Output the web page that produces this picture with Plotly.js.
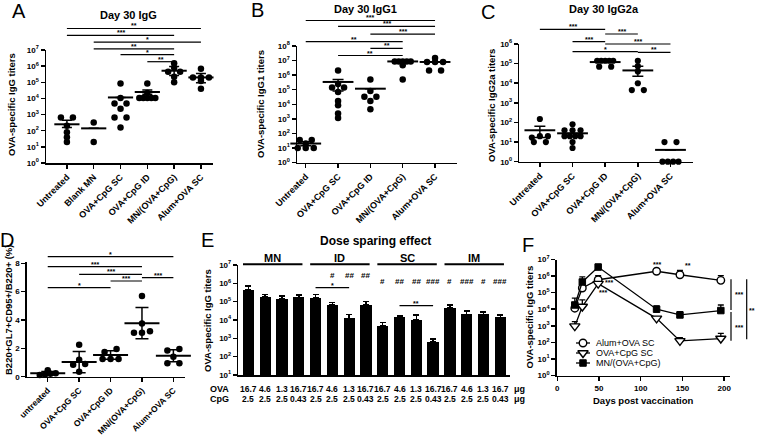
<!DOCTYPE html>
<html><head><meta charset="utf-8">
<script src="https://cdn.plot.ly/plotly-3.0.1.min.js"></script>
<style>body{margin:0;background:#fff}</style>
</head><body>
<div id="chart" style="width:757px;height:436px"></div>
<script>
// ================= DATA =================
// Panel A – Day 30 IgG
const catA = ['Untreated','Blank MN','OVA+CpG SC','OVA+CpG ID','MN/(OVA+CpG)','Alum+OVA SC'];
const dotsA = [
  [650, 650, 200, 80, 40, 20],
  [320, 20],
  [85000, 10500, 4900, 4900, 2300, 650, 650, 160],
  [85000, 22000, 10500, 10500, 10500, 10500, 10500],
  [1500000, 800000, 450000, 450000, 220000, 100000],
  [700000, 200000, 200000, 200000, 120000, 40000]
];
const meanA = [250, 140, 11500, 25000, 520000, 200000];
const hiA   = [450, 140, 11500, 33000, 950000, 355000];
const loA   = [160, 140, 11500, 18000, 260000, 95000];
const sigPairsA = [[0,5],[0,4],[1,5],[1,4],[2,4],[3,4]];
const sigStarsA = ['**','***','*','**','*','**'];

// Panel B – Day 30 IgG1
const catB = ['Untreated','OVA+CpG SC','OVA+CpG ID','MN/(OVA+CpG)','Alum+OVA SC'];
const dotsB = [
  [35, 35, 20, 10, 10, 10],
  [2100000, 250000, 140000, 140000, 70000, 17000, 8500, 2300, 1150],
  [510000, 80000, 33000, 33000, 17000, 4500],
  [8700000, 8700000, 8700000, 8700000, 8700000, 4700000, 510000],
  [15000000, 8000000, 8000000, 8000000, 2100000, 2100000]
];
const meanB = [20, 340000, 117000, 8700000, 8000000];
const hiB   = [27, 510000, 117000, 8700000, 8000000];
const loB   = [14, 80000, 117000, 8700000, 8000000];
const sigPairsB = [[0,4],[1,4],[2,4],[0,3],[2,3],[1,3]];
const sigStarsB = ['***','***','***','**','**','**'];

// Panel C – Day 30 IgG2a
const catC = ['Untreated','OVA+CpG SC','OVA+CpG ID','MN/(OVA+CpG)','Alum+OVA SC'];
const dotsC = [
  [150, 20, 20, 17, 10, 10],
  [80, 40, 40, 40, 20, 20, 20, 20, 10, 5],
  [140000, 140000, 140000, 140000, 140000, 70000, 70000],
  [140000, 74000, 40000, 10000, 4500, 4500],
  [10, 10, 1, 1, 1, 1]
];
const meanC = [40, 28, 120000, 45000, 4];
const hiC   = [65, 28, 120000, 74000, 4];
const loC   = [17, 28, 120000, 23000, 4];
const sigPairsC = [[0,2],[2,3],[1,2],[2,4],[1,3],[3,4]];
const sigStarsC = ['***','***','***','***','*','**'];

// Panel D – germinal centre B cells (%)
const catD = ['untreated','OVA+CpG SC','OVA+CpG ID','MN/(OVA+CpG)','Alum+OVA SC'];
const dotsD = [
  [0.45, 0.25, 0.2, 0.15, 0.12],
  [2.25, 1.2, 0.9, 0.85, 0.35],
  [1.95, 1.75, 1.25, 1.25, 1.25],
  [5.7, 3.75, 3.2, 3.1, 3.1],
  [1.95, 1.85, 1.4, 0.95, 0.95]
];
const meanD = [0.24, 1.03, 1.53, 3.78, 1.48];
const sdD   = [0.12, 0.75, 0.3, 1.1, 0.43];
const sigPairsD = [[0,4],[0,3],[1,3],[2,3],[3,4],[0,2]];
const sigStarsD = ['*','***','***','***','***','*'];

// Panel E – Dose sparing effect
const groupsE = ['MN','ID','SC','IM'];
const ovaE = ['16.7','4.6','1.3','16.7','16.7','4.6','1.3','16.7','16.7','4.6','1.3','16.7','16.7','4.6','1.3','16.7'];
const cpgE = ['2.5','2.5','2.5','0.43','2.5','2.5','2.5','0.43','2.5','2.5','2.5','0.43','2.5','2.5','2.5','0.43'];
const valE = [440000, 190000, 140000, 170000, 165000, 66000, 12300, 70000, 4900, 14000, 10000, 660, 44000, 20000, 20000, 14000];
const topE = [700000, 250000, 200000, 230000, 250000, 90000, 20000, 100000, 7400, 17000, 19000, 900, 66000, 31000, 28000, 19000];
const hashE = ['','','','','','#','##','##','#','##','##','###','#','###','#','###'];
const sigPairsE = [[4,6],[9,11]];
const sigStarsE = ['*','**'];

// Panel F – time course
const daysF = [21, 30, 49, 119, 147, 196];
const namesF = ['Alum+OVA SC','OVA+CpG SC','MN/(OVA+CpG)'];
const alumF = [11500, 190000, 600000, 1950000, 1200000, 550000];
const alumTopF = [11500, 300000, 1070000, 1950000, 2200000, 1070000];
const cpgF = [950, 14500, 350000, 2800, 123, 170];
const cpgTopF = [1800, 37000, 350000, 2800, 195, 350];
const mnF = [18000, 440000, 3500000, 10000, 4500, 8300];
const mnTopF = [47000, 890000, 5000000, 16000, 7200, 18000];
const fStars = ['***','**','***','***'];
const bracketStars = ['***','***','**'];

// ================= LAYOUT HELPERS =================
const W = 757, H = 436;
const PX = x => x / W, PY = y => 1 - y / H;
const FONT = 'Liberation Sans, Arial, sans-serif';
const K = '#000';
const bold = (size) => ({family: FONT, size: size, color: K, weight: 'bold'});

const traces = [];
const shapes = [];
const annotations = [];

function swarm(vals, toPx, unitPx) {
  const idx = vals.map((v, i) => i).sort((a, b) => toPx(vals[a]) - toPx(vals[b]));
  const off = new Array(vals.length).fill(0);
  const rows = []; let cur = [];
  idx.forEach(i => {
    if (cur.length && Math.abs(toPx(vals[i]) - toPx(vals[cur[0]])) > 3.5) { rows.push(cur); cur = []; }
    cur.push(i);
  });
  if (cur.length) rows.push(cur);
  rows.forEach(r => {
    const sp = r.length > 1 ? Math.min(12, 16 / (r.length - 1)) : 0;
    r.forEach((i, k) => { off[i] = (k - (r.length - 1) / 2) * sp / unitPx; });
  });
  return off;
}

function addScatterPanel(ax, dots, means, hi, lo, isLog, valPx, unitPx, dotSize, barW, capW) {
  const xs = [], ys = [];
  const toPx = v => isLog ? Math.log10(v) * valPx : v * valPx;
  dots.forEach((vals, i) => {
    const off = swarm(vals, toPx, unitPx);
    vals.forEach((v, k) => { xs.push(i + off[k]); ys.push(v); });
  });
  traces.push({type: 'scatter', mode: 'markers', x: xs, y: ys, xaxis: 'x' + ax, yaxis: 'y' + ax,
    marker: {color: K, size: dotSize, line: {width: 0}}, cliponaxis: false, showlegend: false, hoverinfo: 'skip'});
  traces.push({type: 'scatter', mode: 'markers', x: means.map((_, i) => i), y: means, xaxis: 'x' + ax, yaxis: 'y' + ax,
    marker: {symbol: 'line-ew', size: barW, color: K, line: {width: 2, color: K}},
    error_y: {type: 'data', symmetric: false, array: hi.map((h, i) => h - means[i]),
      arrayminus: lo.map((l, i) => means[i] - l), color: K, thickness: 1.5, width: capW},
    cliponaxis: false, showlegend: false, hoverinfo: 'skip'});
}

function addSig(ax, pairs, stars, ysPx) {
  pairs.forEach((p, i) => {
    shapes.push({type: 'line', xref: 'x' + ax, yref: 'paper', x0: p[0], x1: p[1],
      y0: PY(ysPx[i]), y1: PY(ysPx[i]), line: {color: K, width: 1.2}});
    annotations.push({xref: 'x' + ax, yref: 'paper', x: (p[0] + p[1]) / 2, y: PY(ysPx[i] - 2.5),
      text: stars[i], showarrow: false, font: bold(7), xanchor: 'center', yanchor: 'middle'});
  });
}

function txt(x, y, text, font, extra) {
  annotations.push(Object.assign({xref: 'paper', yref: 'paper', x: PX(x), y: PY(y), text: text,
    showarrow: false, font: font, xanchor: 'center', yanchor: 'middle'}, extra || {}));
}

const logTicks = (a, b) => { const v = [], t = []; for (let k = a; k <= b; k++) { v.push(Math.pow(10, k)); t.push('10<sup>' + k + '</sup>'); } return {tickvals: v, ticktext: t}; };

const axBase = {showline: true, linecolor: K, linewidth: 1.5, ticks: 'outside', ticklen: 4, tickwidth: 1.5,
  tickcolor: K, showgrid: false, zeroline: false, tickfont: bold(8), fixedrange: true, autorange: false};
function catX(domain, range, anchor, cats, fs) {
  return Object.assign({}, axBase, {domain: domain, range: range, anchor: anchor,
    tickmode: 'array', tickvals: cats.map((_, i) => i), ticktext: cats, tickangle: -45, tickfont: bold(fs || 9)});
}
function logY(domain, lo, hi, anchor) {
  return Object.assign({}, axBase, {domain: domain, type: 'log', range: [lo, hi], anchor: anchor, tickmode: 'array'}, logTicks(lo, hi));
}

// ================= PANELS =================
// A
addScatterPanel('', dotsA, meanA, hiA, loA, true, 16.1, 26.8, 6.5, 18, 5);
addSig('', sigPairsA, sigStarsA, [28.5, 35.3, 42.2, 48.8, 54.7, 61.7]);
// B
addScatterPanel('2', dotsB, meanB, hiB, loB, true, 14.6, 32.3, 6.5, 22, 5.5);
addSig('2', sigPairsB, sigStarsB, [20.5, 26.3, 34.2, 41.7, 48.3, 55.5]);
// C
addScatterPanel('3', dotsC, meanC, hiC, loC, true, 19.6, 32.6, 6.2, 22, 5.5);
addSig('3', sigPairsC, sigStarsC, [29.3, 34, 41.7, 44, 51.7, 52.3]);
// D
addScatterPanel('4', dotsD, meanD, meanD.map((m, i) => m + sdD[i]), meanD.map((m, i) => m - sdD[i]), false, 14.17, 31.4, 6.5, 25, 6.5);
addSig('4', sigPairsD, sigStarsD, [256.7, 266.7, 274.3, 281, 277.7, 287.7]);

// E bars
traces.push({type: 'bar', x: valE.map((_, i) => i), y: valE, xaxis: 'x5', yaxis: 'y5', width: 0.67,
  marker: {color: K, line: {width: 0}},
  error_y: {type: 'data', symmetric: false, array: topE.map((t, i) => t - valE[i]), arrayminus: valE.map(() => 0),
    color: K, thickness: 1.5, width: 3},
  showlegend: false, hoverinfo: 'skip'});
groupsE.forEach((g, gi) => {
  shapes.push({type: 'line', xref: 'x5', yref: 'paper', x0: gi * 4 - 0.32, x1: gi * 4 + 3.22,
    y0: PY(264.3), y1: PY(264.3), line: {color: K, width: 2}});
  annotations.push({xref: 'x5', yref: 'paper', x: gi * 4 + 1.45, y: PY(257.5), text: g, showarrow: false,
    font: bold(11), xanchor: 'center', yanchor: 'middle'});
});
hashE.forEach((h, i) => {
  if (!h) return;
  const g = Math.floor(i / 4);
  annotations.push({xref: 'x5', yref: 'paper', x: i, y: PY(g === 1 ? 275.7 : 281), text: h, showarrow: false,
    font: bold(8), xanchor: 'center', yanchor: 'middle'});
});
addSig('5', sigPairsE, sigStarsE, [287.7, 305.7]);
ovaE.forEach((v, i) => {
  annotations.push({xref: 'x5', yref: 'paper', x: i, y: PY(389), text: v, showarrow: false, font: bold(8.5), xanchor: 'center', yanchor: 'middle'});
  annotations.push({xref: 'x5', yref: 'paper', x: i, y: PY(399.3), text: cpgE[i], showarrow: false, font: bold(8.5), xanchor: 'center', yanchor: 'middle'});
});
txt(219, 389, 'OVA', bold(9));
txt(219, 399.3, 'CpG', bold(9));
txt(519, 389, 'μg', bold(9));
txt(519, 399.3, 'μg', bold(9));

// F lines
const styleF = [
  {symbol: 'circle', size: 7.5, color: '#fff', line: {color: K, width: 1.4}},
  {symbol: 'triangle-down', size: 9, color: '#fff', line: {color: K, width: 1.4}},
  {symbol: 'square', size: 6.5, color: K, line: {color: K, width: 1}}
];
[[alumF, alumTopF], [cpgF, cpgTopF], [mnF, mnTopF]].forEach((s, si) => {
  traces.push({type: 'scatter', mode: 'lines+markers', x: daysF, y: s[0], xaxis: 'x6', yaxis: 'y6', name: namesF[si],
    line: {color: K, width: 1.3}, marker: styleF[si],
    error_y: {type: 'data', symmetric: false, array: s[1].map((t, i) => t - s[0][i]), arrayminus: s[0].map(() => 0),
      color: K, thickness: 1.3, width: 3},
    cliponaxis: false, showlegend: false, hoverinfo: 'skip'});
});
// F manual legend (drawn on a hidden helper axis)
namesF.forEach((n, i) => {
  const r = 343 + i * 10;
  traces.push({type: 'scatter', mode: 'lines', x: [0, 1], y: [r, r], xaxis: 'x7', yaxis: 'y7',
    line: {color: K, width: 1.3}, showlegend: false, hoverinfo: 'skip'});
  traces.push({type: 'scatter', mode: 'markers', x: [0.5], y: [r], xaxis: 'x7', yaxis: 'y7',
    marker: styleF[i], showlegend: false, hoverinfo: 'skip', cliponaxis: false});
  txt(593.5, r, n, {family: FONT, size: 9, color: K}, {xanchor: 'left'});
});
// F stars
[[656.7, 264.5], [688, 265], [608.5, 282], [602.5, 292.5]].forEach((p, i) => txt(p[0], p[1], fStars[i], bold(7)));
[[731, 279.3, 310], [731, 312, 340.7], [746.7, 279.3, 339.3]].forEach((b, i) => {
  shapes.push({type: 'line', xref: 'paper', yref: 'paper', x0: PX(b[0]), x1: PX(b[0]), y0: PY(b[1]), y1: PY(b[2]), line: {color: K, width: 1.2}});
});
txt(739, 294.5, bracketStars[0], bold(7));
txt(739, 327.5, bracketStars[1], bold(7));
txt(752, 310.7, bracketStars[2], bold(7));

// ================= TEXT =================
const letterFont = {family: FONT, size: 20, color: K};
txt(18.5, 11, 'A', letterFont);
txt(257, 10, 'B', letterFont);
txt(488, 12, 'C', letterFont);
txt(7, 240, 'D', letterFont);
txt(207, 240, 'E', letterFont);
txt(528, 245, 'F', letterFont);

txt(128, 15, 'Day 30 IgG', bold(11));
txt(365, 9, 'Day 30 IgG1', bold(11));
txt(604, 9, 'Day 30 IgG2a', bold(11));
txt(375, 241, 'Dose sparing effect', bold(12));
txt(643, 400.7, 'Days post vaccination', bold(9.5));

const rot = {textangle: -90};
txt(11, 105, 'OVA-specific IgG titers', bold(9.5), rot);
txt(260, 104, 'OVA-specific IgG1 titers', bold(9.5), rot);
txt(491, 106, 'OVA-specific IgG2a titers', bold(9.5), rot);
txt(8, 310, 'B220+GL7+CD95+/B220+ (%)', bold(9.5), rot);
txt(207, 321, 'OVA-specific IgG titers', bold(9.5), rot);
txt(528.5, 317, 'OVA-specific IgG titers', bold(9.5), rot);

// ================= AXES =================
const layout = {
  width: W, height: H, margin: {l: 0, r: 0, t: 0, b: 0},
  paper_bgcolor: '#fff', plot_bgcolor: 'rgba(0,0,0,0)', showlegend: false,
  font: {family: FONT, color: K},
  xaxis: catX([PX(46), PX(213)], [-0.78, 5.45], 'y', catA),
  yaxis: logY([PY(163), PY(50)], 0, 7, 'x'),
  xaxis2: catX([PX(297), PX(456.7)], [-0.27, 4.67], 'y2', catB),
  yaxis2: logY([PY(162.5), PY(46)], 0, 8, 'x2'),
  xaxis3: catX([PX(519.3), PX(692.7)], [-0.63, 4.68], 'y3', catC),
  yaxis3: logY([PY(161.7), PY(44)], 0, 6, 'x3'),
  xaxis4: catX([PX(26.7), PX(185)], [-0.67, 4.37], 'y4', catD, 8.5),
  yaxis4: Object.assign({}, axBase, {domain: [PY(376.7), PY(261.9)], range: [0, 8.1], anchor: 'x4', tickmode: 'array', tickvals: [0, 2, 4, 6, 8]}),
  xaxis5: Object.assign({}, axBase, {domain: [PX(238.3), PX(510)], range: [-0.6, 15.58], anchor: 'y5', ticks: '', showticklabels: false}),
  yaxis5: logY([PY(375), PY(265)], 1, 7, 'x5'),
  xaxis6: Object.assign({}, axBase, {domain: [PX(556.7), PX(730)], range: [-0.7, 207], anchor: 'y6', tickmode: 'array', tickvals: [0, 50, 100, 150, 200]}),
  yaxis6: logY([PY(375.5), PY(259.5)], 0, 7, 'x6'),
  xaxis7: {domain: [PX(576), PX(590)], range: [0, 1], anchor: 'y7', visible: false, fixedrange: true},
  yaxis7: {domain: [PY(372), PY(336)], range: [372, 336], anchor: 'x7', visible: false, fixedrange: true},
  shapes: shapes, annotations: annotations,
  bargap: 0
};

Plotly.newPlot('chart', traces, layout, {staticPlot: true, displayModeBar: false});
</script>
</body></html>
